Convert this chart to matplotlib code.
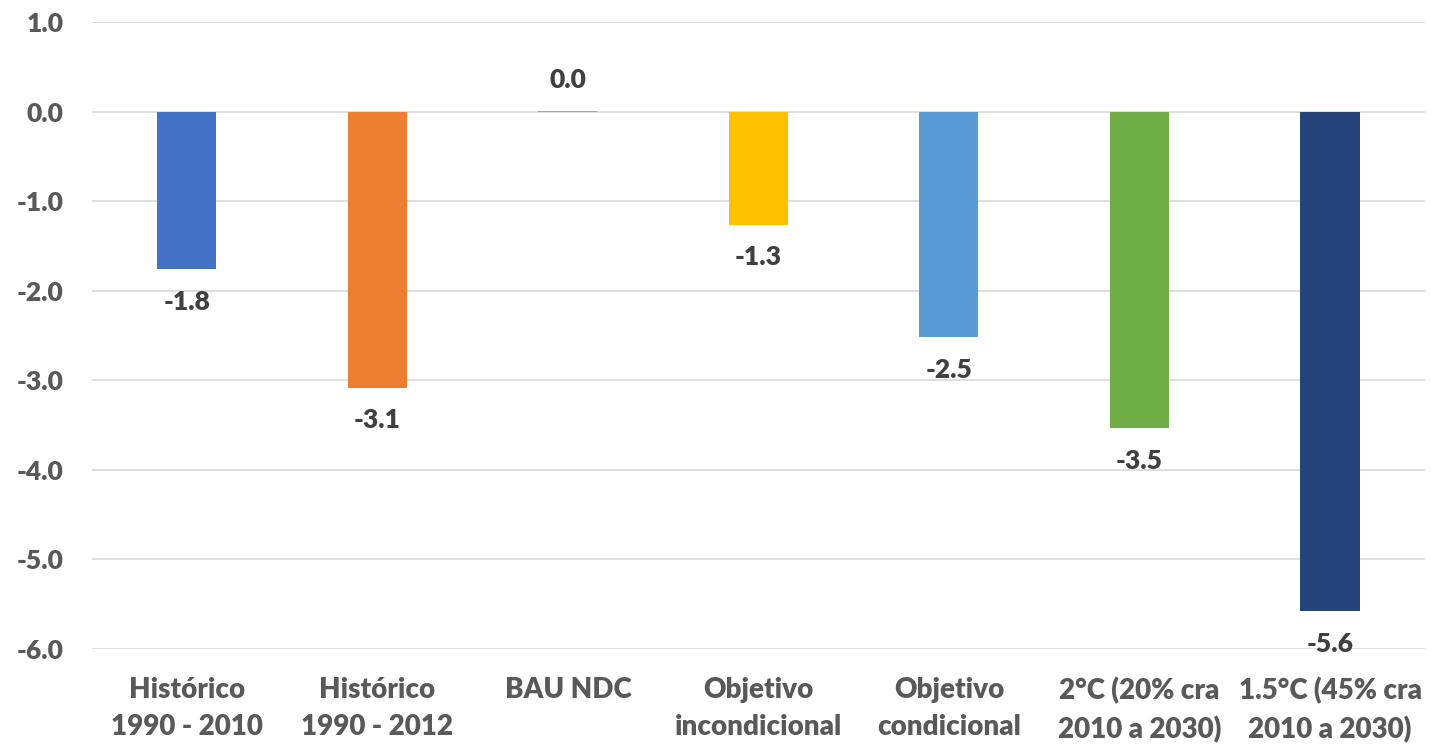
import matplotlib
matplotlib.use("Agg")
import matplotlib.pyplot as plt

categories = ["Histórico\n1990 - 2010", "Histórico\n1990 - 2012", "BAU NDC",
              "Objetivo\nincondicional", "Objetivo\ncondicional",
              "2°C (20% cra\n2010 a 2030)", "1.5°C (45% cra\n2010 a 2030)"]
values = [-1.76, -3.08, 0.01, -1.26, -2.52, -3.53, -5.58]
labels = ["-1.8", "-3.1", "0.0", "-1.3", "-2.5", "-3.5", "-5.6"]
colors = ["#4472C4", "#ED7D31", "#A5A5A5", "#FFC000", "#5B9BD5", "#70AD47", "#264478"]
yticks = [1.0, 0.0, -1.0, -2.0, -3.0, -4.0, -5.0, -6.0]

plt.rcParams['font.family'] = ['Lato', 'DejaVu Sans']
W = "heavy"
fig = plt.figure(figsize=(14.31, 7.45), dpi=100)
ax = fig.add_axes([0.064, 0.129, 0.932, 0.841])
x = range(len(categories))
bars = ax.bar(x, values, width=0.31, color=colors, zorder=3)
for xi, v, lab in zip(x, values, labels):
    if v >= 0:
        ax.annotate(lab, (xi, v), xytext=(0, 14), textcoords="offset points",
                    ha="center", va="bottom", fontsize=19, fontweight=W, color="#404040")
    else:
        ax.annotate(lab, (xi, v), xytext=(0, -15), textcoords="offset points",
                    ha="center", va="top", fontsize=19, fontweight=W, color="#404040")
ax.set_ylim(-6, 1)
ax.set_xlim(-0.5, len(categories) - 0.5)
ax.set_yticks(yticks)
ax.set_yticklabels([f"{t:.1f}" for t in yticks])
ax.set_xticks(list(x))
ax.set_xticklabels(categories, linespacing=1.55)
ax.tick_params(axis="y", length=0, labelsize=19, colors="#595959", pad=20)
ax.tick_params(axis="x", length=0, labelsize=20, colors="#595959", pad=20)
for lbl in ax.get_xticklabels() + ax.get_yticklabels():
    lbl.set_fontweight(W)
ax.grid(axis="y", color="#D9D9D9", linewidth=1.2, zorder=0)
for s in ax.spines.values():
    s.set_visible(False)
fig.savefig("out.png", dpi=100)
